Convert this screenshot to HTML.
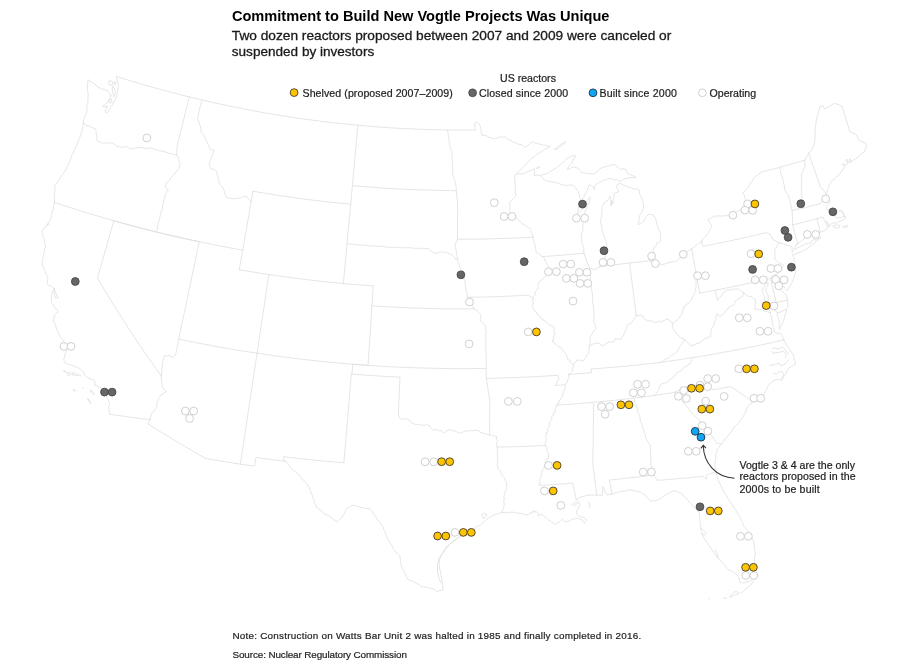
<!DOCTYPE html>
<html><head><meta charset="utf-8"><title>Commitment to Build New Vogtle Projects Was Unique</title>
<style>
html,body{margin:0;padding:0;background:#fff;}
body{width:900px;height:670px;overflow:hidden;position:relative;}
svg{position:absolute;left:0;top:0;will-change:transform;}
text{font-family:"Liberation Sans",Arial,Helvetica,sans-serif;}
.t{font-size:15px;font-weight:700;fill:#000;}
.st{font-size:12.9px;fill:#1a1a1a;stroke:#1a1a1a;stroke-width:0.3px;}
.lg{font-size:10.6px;fill:#1e1e1e;stroke:#1e1e1e;stroke-width:0.22px;}
.nt{font-size:9.9px;fill:#1e1e1e;stroke:#1e1e1e;stroke-width:0.2px;}
.an{font-size:10.6px;fill:#1e1e1e;stroke:#1e1e1e;stroke-width:0.22px;}
.map path{fill:none;stroke:#dedede;stroke-width:0.8;stroke-linejoin:round;stroke-linecap:round;}
.op{fill:#fff;stroke:#c8c8c8;stroke-width:0.85;}
.cl{fill:#666;stroke:#444;stroke-width:0.85;}
.sh{fill:#fec400;stroke:#3a3530;stroke-width:0.85;}
.bu{fill:#10a5f5;stroke:#1e2a36;stroke-width:0.85;}
</style></head>
<body>
<svg width="900" height="670" viewBox="0 0 900 670">
<g class="map">
<path d="M116.7,76.5L122.9,78.4L129.1,80.4L135.3,82.2L141.6,84.1L147.8,85.9L154.1,87.7L160.3,89.4L166.6,91.1L172.9,92.7L179.2,94.4L185.5,96.0L191.8,97.5L198.1,99.0L204.4,100.5L210.8,102.0L217.1,103.4L223.4,104.8L229.8,106.1L236.2,107.4L242.5,108.7L248.9,109.9L255.3,111.1L261.7,112.3L268.1,113.4L274.5,114.5L280.9,115.5L287.3,116.5L293.8,117.5L300.2,118.5L306.6,119.4L313.1,120.2L319.5,121.1L326.0,121.9L332.4,122.6L338.9,123.3L345.3,124.0L351.8,124.7L358.3,125.3L364.7,125.8L371.2,126.4L377.7,126.9L384.2,127.3L390.7,127.8L397.1,128.2L403.6,128.5L410.1,128.8L416.6,129.1L423.1,129.4L429.6,129.6L436.1,129.7L442.6,129.9L449.1,130.0L455.6,130.0L462.1,130.0L468.6,130.0L475.1,130.0M475.1,130.0L474.9,128.5L474.7,127.0L475.2,125.5L474.6,124.0L475.0,122.5L476.3,122.6L477.6,122.6L479.3,124.0L479.8,125.4L480.4,126.7L480.3,128.3L481.1,129.6L481.0,131.1L481.3,132.5L482.0,133.9L481.9,135.4L483.4,135.1L484.9,135.5L486.4,135.7L487.9,136.8L489.7,137.4L491.6,137.9L493.1,139.1L494.3,138.4L495.8,138.3L497.2,138.1L498.4,137.2L499.9,137.2L501.3,136.9L502.9,137.4L504.3,136.8L505.8,137.2L506.5,138.7L508.0,139.0L509.1,140.0L510.6,140.4L512.0,141.1L513.2,142.2L515.0,142.6L516.6,143.3L518.2,144.2L520.0,144.4L521.5,144.7L522.7,145.7L524.1,146.4L525.5,146.9L526.6,146.0L527.9,145.4L529.0,144.6L530.0,143.5L531.2,142.7L532.6,142.3L534.0,142.4L535.1,143.2L536.4,143.3L537.7,143.7L539.0,143.8L540.2,144.4L541.5,144.6L542.8,145.0L544.6,145.2L546.3,145.8L548.0,146.4L549.9,146.5M88.2,80.0L87.8,81.3L88.0,82.8L87.5,84.1L87.3,85.5L87.4,86.9L87.3,88.3L87.5,89.6L88.0,91.0L87.6,92.4L88.1,93.7L88.4,95.0L88.1,96.4L87.8,97.7L88.3,99.1L88.0,100.4L87.8,101.7L87.9,103.1L87.2,104.3L86.9,105.6L86.9,107.0L86.7,108.3L87.4,110.6L86.5,111.9L86.3,113.4L85.4,114.7L84.9,116.1L84.5,117.4L84.2,118.6L84.0,119.9L83.4,121.2L83.4,122.5M83.4,122.5L85.0,124.5L86.5,125.5L88.2,125.8L89.8,126.5L91.4,127.2L92.7,127.8L94.0,128.1L95.3,129.1L96.1,130.6L96.0,132.5L96.3,134.4L96.5,136.1L97.0,137.8L96.7,140.2L97.7,141.2L99.0,141.8L100.5,142.2L101.6,143.0L102.9,142.9L104.2,143.2L105.6,142.7L106.9,143.0L108.2,143.1L109.6,143.0L111.0,143.0L112.4,143.1L113.8,143.6L114.8,144.8L116.3,145.4L117.3,146.7L118.7,146.7L120.1,147.0L121.5,147.3L123.0,147.4L124.4,146.5L126.0,146.6L127.3,147.1L128.6,147.7L129.8,148.5L131.2,148.7L132.8,148.7L134.3,148.5L135.7,147.8L137.3,147.7L138.8,147.6L140.2,147.5L141.7,147.5L143.3,148.2L145.1,148.2L146.8,148.7L148.6,148.4L149.0,147.9L150.5,148.0L151.9,148.3L153.3,148.7L154.6,149.3L156.0,149.5L157.4,150.0L158.7,150.5L160.1,150.8L161.5,151.0L162.9,151.1L164.2,151.8L165.6,152.2L167.0,152.4L168.3,153.0L169.6,153.6L171.1,153.6L172.5,154.1L173.9,154.3L175.3,154.7L176.7,155.0M176.7,155.0L176.8,150.9L177.1,146.5L179.1,138.2L181.1,129.9L183.2,121.7L185.2,113.4L187.2,105.2L189.3,96.9M83.4,122.5L83.1,124.0L83.3,125.5L82.5,126.9L82.4,128.4L82.4,129.9L81.7,131.1L81.3,132.3L81.1,133.7L80.7,134.9L80.4,136.2L79.7,137.4L79.0,138.9L78.7,140.6L77.8,142.0L77.4,143.6L76.7,145.1L75.9,146.6L75.4,148.2L74.6,149.6L73.8,151.1L73.3,152.8L72.6,154.3L71.6,155.7L71.3,157.3L70.7,158.9L69.9,160.3L69.4,161.9L69.1,163.5L68.2,165.0L67.3,166.1L66.8,167.3L66.5,168.7L65.8,169.8L65.0,171.0L64.3,172.1L63.6,173.3L63.0,174.5L61.7,175.4L60.9,176.4L60.4,177.8L59.6,178.9L58.7,180.1L58.0,181.6L57.0,182.8L55.9,183.9L54.9,185.1L55.0,186.5L54.6,187.8L55.0,189.2L55.0,190.6L54.6,191.9L54.2,193.2L54.5,194.5L54.7,195.8L54.4,197.1L54.3,198.4L54.7,199.8L54.3,201.1L54.3,202.4M54.3,202.4L61.0,204.6L67.8,206.8L74.5,208.9L81.2,211.1L88.0,213.1L94.8,215.2L101.6,217.2L108.3,219.2L115.2,221.1L122.0,223.0L128.8,224.9L135.6,226.7L142.5,228.5L149.3,230.2L156.2,231.9M156.2,231.9L157.0,230.5L157.3,229.0L157.5,227.5L157.5,226.0L157.9,224.5L158.4,223.1L158.5,221.6L159.3,220.2L159.5,218.7L160.0,217.3L160.0,215.7L160.5,214.3L160.6,212.8L161.5,211.4L162.0,210.0L162.3,208.5L162.6,207.0L162.7,205.5L163.3,204.1L163.6,202.6L163.6,201.0L164.2,199.6L164.4,198.1L164.9,196.7L165.1,194.9L166.1,193.3L166.5,191.9L167.5,190.9L168.5,189.8L167.1,189.0L166.1,187.7L164.8,186.9L165.5,185.5L165.5,184.0L166.5,182.9L167.8,182.0L168.8,180.9L169.8,179.8L170.4,178.3L171.5,177.3L172.3,176.1L173.3,175.0L174.2,174.0L175.4,173.1L175.9,171.8L177.0,170.8L178.0,169.7L178.7,168.5L179.2,167.2L180.0,166.0L179.9,164.7L179.7,163.4L178.9,162.2L179.1,160.9L178.7,159.6L178.4,157.9L177.6,156.4L176.7,155.0M113.8,220.7L111.1,230.3L108.3,239.9L105.6,249.5L102.9,259.1L100.2,268.7L97.5,278.2L101.7,285.3L105.9,292.4L110.2,299.4L114.6,306.5L119.0,313.5L123.5,320.5L128.0,327.5L132.6,334.5L137.2,341.5L141.9,348.4L146.7,355.3L151.5,362.2L156.3,369.1L161.3,376.0M161.3,376.0L161.1,377.4L161.4,378.7L161.4,380.1L161.9,381.5L161.7,383.1L162.3,384.5L162.2,386.1L162.7,387.5L163.3,388.8L164.6,389.6L165.5,390.8L166.3,391.9L165.0,392.2L163.9,393.0L162.9,394.1L161.8,394.7L160.5,395.1L160.1,396.5L159.0,397.5L158.4,398.8L158.3,400.3L157.4,401.5L157.0,402.9L156.7,404.4L156.8,405.9L156.7,407.4L155.9,408.5L155.0,409.4L154.4,410.6L153.6,411.7L152.2,412.2L151.6,413.4L151.1,414.9L150.9,416.5L150.2,418.0L150.2,419.7M150.2,419.7L142.1,418.7L134.0,417.7L126.0,416.6L117.9,415.4L109.8,414.2M109.8,414.2L109.4,412.6L109.3,411.0L108.7,409.5L109.1,408.1L108.9,406.7L109.1,405.3L109.3,403.9L109.6,402.5L108.7,401.2L108.3,399.7L107.3,398.4L106.7,397.0L106.1,395.6L105.1,394.5L104.7,393.0L103.6,391.9L102.7,390.7L101.9,389.4L101.1,388.2L99.6,387.2L98.1,386.4L96.6,385.7L94.9,385.5L94.8,384.2L95.0,382.9L94.7,381.6L94.6,380.3L93.0,379.7L91.4,379.2L89.8,378.7L88.5,378.3L87.6,377.3L86.4,376.8L85.4,375.9L84.4,374.6L84.1,372.9L83.2,371.5L81.9,370.9L80.9,369.9L79.8,369.0L78.6,368.3L77.4,367.5L75.9,367.1L74.5,366.4L73.0,365.8L71.5,365.3L70.1,364.6L68.4,364.5L67.0,363.6L65.5,363.1L64.5,361.7L63.8,360.1L63.9,358.8L64.5,357.6L64.6,356.3L64.9,355.0L65.1,353.7L65.8,352.2L66.5,350.7L66.8,349.0L66.2,347.6L65.8,346.2L65.2,344.9L64.7,343.5L64.2,342.1L63.5,340.9L62.6,339.9L61.8,338.8L61.0,337.7L60.4,336.4L59.4,335.5L58.9,334.0L58.5,332.6L57.9,331.1L56.9,329.9L56.5,328.4L56.0,327.0L55.6,325.4L55.0,324.1L53.9,322.8L53.6,321.3L53.6,319.8L54.1,318.3L54.1,316.8L54.6,315.3L55.4,314.2L56.2,313.1L57.5,312.4L58.3,311.3L57.4,310.1L56.4,309.0L55.1,308.2L54.1,307.0L53.7,305.6L52.9,304.3L51.8,303.2L51.2,301.8L51.5,300.3L51.7,298.8L51.2,297.2L51.5,295.7L52.2,294.4L52.2,293.0L52.6,291.6L53.0,290.3L54.2,289.6L53.9,288.1L52.9,287.1L51.7,286.4L50.4,285.9L49.1,285.4L48.1,284.5L47.0,283.8L47.3,282.3L47.4,280.8L47.6,279.3L48.1,277.9L47.4,276.7L47.0,275.3L45.9,274.3L45.6,272.9L45.1,271.3L44.4,269.7L43.9,268.1L43.0,266.6L42.7,265.0L42.2,263.4L42.2,262.4L42.6,260.9L42.7,259.4L42.7,257.9L43.6,256.5L43.7,255.0L43.8,253.5L44.4,252.3L44.1,250.8L44.5,249.6L44.7,248.2L45.5,247.0L45.6,245.7L45.1,244.4L44.7,243.0L44.5,241.6L44.5,240.1L43.9,238.8L43.7,237.4L43.0,236.2L42.6,234.9L42.7,233.5L42.1,232.2L41.7,230.9L43.0,229.8L43.9,228.3L45.3,227.3L46.3,225.9L47.8,225.0L48.9,223.7L46.8,225.1L47.6,223.8L48.2,222.3L49.6,221.4L50.2,219.9L50.7,218.5L51.2,217.1L51.0,215.5L51.7,214.1L52.3,212.7L52.2,211.1L53.1,209.8L53.3,208.3L53.5,206.8L53.7,205.3L54.1,203.9L54.3,202.4M54.2,289.6L55.3,291.6L56.6,295.2L58.3,297.8L55.7,298.0L54.4,294.5L53.9,288.1M113.8,220.7L120.8,222.7L127.9,224.6L135.0,226.5L142.1,228.4L149.2,230.2L156.3,232.0L163.5,233.7L170.6,235.4L177.8,237.0L184.9,238.6L192.1,240.2L199.3,241.7M199.3,241.7L197.4,250.6L195.5,259.5L193.7,268.3L191.8,277.2L189.9,286.0L188.0,294.9L186.2,303.8L184.3,312.6L182.4,321.5L180.6,330.3L178.7,339.1M178.7,339.1L178.1,340.4L178.3,341.8L178.1,343.1L177.5,344.4L177.5,345.7L177.0,347.0L177.0,348.4L176.7,349.7L176.5,351.0L176.1,352.3L175.8,353.6L175.4,354.9L174.4,356.4L173.2,357.7L172.1,356.8L170.7,356.4L169.5,355.5L168.1,355.6L166.7,355.9L165.2,355.9L163.8,355.9L163.9,357.3L163.5,358.7L163.4,360.1L162.6,361.3L162.5,362.7L162.3,364.1L162.4,365.6L162.1,367.1L161.6,368.5L161.8,370.0L161.9,371.5L161.3,373.0L161.5,374.5L161.3,376.0M202.0,100.0L201.7,101.3L201.1,102.5L201.1,103.9L200.7,105.2L200.4,106.5L199.9,107.8L199.4,109.0L199.6,110.4L198.9,111.6L198.9,113.0L198.4,114.3L198.2,115.6L198.1,117.0L197.8,118.3L197.4,119.6L198.4,120.7L198.9,122.0L199.5,123.3L199.6,124.8L200.4,126.0L200.7,127.3L201.0,128.6L201.1,129.9L200.9,131.2L201.4,132.5L202.2,133.6L203.1,134.7L204.0,135.7L204.7,136.9L205.3,138.1L205.8,139.4L206.2,140.7L207.0,141.8L207.3,143.2L208.1,144.5L209.0,145.7L209.2,147.3L209.9,148.6L211.0,149.7L212.7,150.1L214.4,150.4L214.1,151.7L212.9,152.7L212.9,154.2L212.3,155.4L212.1,156.7L211.1,157.8L210.8,159.1L210.4,160.3L209.9,161.6L209.8,162.9L209.2,164.1L208.8,165.4L209.9,166.3L210.4,167.6L210.9,168.9L212.6,168.9L214.1,169.6L215.6,170.1L216.4,171.2L216.9,172.4L216.9,173.8L217.5,175.3L218.0,176.8L218.2,178.4L218.5,179.9L219.0,181.4L219.4,182.9L220.1,184.2L221.0,185.3L221.8,186.5L222.8,187.6L223.0,188.9L223.8,190.0L224.4,191.2L224.7,192.5L224.8,193.9L225.9,194.9L225.9,196.3L226.6,197.5L228.0,197.9L229.5,197.6L230.7,198.6L232.2,198.6L233.6,198.8L234.9,198.4L236.2,198.2L237.6,198.3L238.9,198.2L240.2,197.8L241.6,197.1L243.3,197.0L244.8,196.5L246.3,196.1L247.0,197.4L248.1,198.4L248.9,199.6L249.9,200.6L251.1,201.4M251.1,201.4L249.5,211.1L247.8,220.9L246.1,230.6L244.4,240.3L242.7,250.1M156.2,231.9L163.4,233.7L170.5,235.4L177.7,237.0L184.9,238.6L192.1,240.2L199.3,241.7L206.5,243.2L213.7,244.7L220.9,246.1L228.2,247.5L235.4,248.8L242.7,250.1M252.9,191.2L252.0,196.3L251.1,201.4M242.7,250.1L241.0,259.9L239.3,269.7M252.9,191.2L259.9,192.4L266.8,193.5L273.8,194.7L280.7,195.7L287.7,196.7L294.7,197.7L301.7,198.7L308.7,199.6L315.6,200.5L322.6,201.3L329.6,202.1L336.7,202.8L343.7,203.5L350.7,204.2M357.9,125.2L357.0,135.1L356.1,144.9L355.2,154.8L354.3,164.6L353.4,174.5L352.5,184.4L351.6,194.3L350.7,204.2M350.7,204.2L349.8,214.1L348.9,224.0L347.9,233.9L347.0,243.8L346.1,253.7L345.2,263.7L344.3,273.6L343.4,283.5M239.3,269.7L246.7,271.0L254.1,272.2L261.5,273.4L268.9,274.5L276.3,275.6L283.8,276.6L291.2,277.7L298.6,278.6L306.1,279.5L313.5,280.4L321.0,281.3L328.5,282.1L335.9,282.8L343.4,283.5M268.9,274.5L267.4,284.4L265.9,294.2L264.5,304.1L263.0,313.9L261.5,323.7L260.0,333.6L258.5,343.4L257.1,353.2M178.7,339.1L186.5,340.8L194.3,342.3L202.1,343.8L209.9,345.3L217.8,346.8L225.6,348.1L233.5,349.5L241.3,350.8L249.2,352.0L257.1,353.2M257.1,353.2L264.4,354.3L271.8,355.4L279.2,356.4L286.5,357.4L293.9,358.3L301.3,359.2L308.7,360.0L316.1,360.8L323.5,361.6L330.9,362.3L338.3,363.0L345.8,363.7L353.2,364.3L360.6,364.8L368.0,365.4M373.3,285.9L372.6,295.9L371.9,305.8L371.4,314.3L370.8,322.8L370.3,331.3L369.7,339.9L369.1,348.4L368.6,356.9L368.0,365.4M343.4,283.5L350.9,284.2L358.3,284.8L365.8,285.4L373.3,285.9M257.1,353.2L255.7,362.5L254.3,371.8L252.9,381.1L251.5,390.3L250.1,399.6L248.7,408.8L247.3,418.1L245.9,427.3L244.5,436.5L243.2,445.7L241.8,455.0L240.4,464.1M240.4,464.1L233.5,463.1L226.6,462.0L219.8,460.9L212.9,459.8L206.1,458.6L198.6,454.4L191.3,450.1L183.9,445.8L176.6,441.5L169.3,437.1L162.1,432.8L154.9,428.3L147.8,423.8L150.2,419.7M352.8,364.2L352.0,374.1L351.3,374.1L350.6,383.0L349.8,391.9L349.1,400.8L348.4,409.7L347.6,418.5L346.9,427.4L346.1,436.3L345.4,445.1L344.6,454.0L343.9,462.8M343.9,462.8L336.3,462.2L328.8,461.5L321.2,460.8L313.6,460.1L306.1,459.3L298.5,458.5L291.0,457.6L283.4,456.7L284.4,461.2M284.4,461.2L277.3,460.3L270.2,459.4L263.1,458.4L255.9,457.5L254.7,466.2L247.5,465.2L240.4,464.1M351.3,374.1L358.3,374.6L365.2,375.1L372.2,375.6L379.1,376.0L386.1,376.4L393.0,376.8L400.0,377.1L399.6,386.8L399.1,396.4L398.7,406.0L398.3,415.6M398.3,415.6L399.2,416.8L399.9,418.2L401.4,418.9L402.7,419.3L404.0,419.4L405.4,418.8L406.7,418.6L408.0,419.5L409.5,420.3L410.3,421.8L411.2,423.2L412.9,422.9L414.4,424.3L416.1,424.1L417.8,424.5L419.4,424.8L421.1,424.9L422.5,425.1L423.9,425.3L425.3,425.0L426.7,424.2L428.0,425.5L429.4,425.1L429.9,426.5L431.0,427.5L431.8,428.7L432.6,429.8L434.3,430.1L435.9,429.2L437.6,429.9L438.8,430.8L440.4,430.7L441.8,431.1L443.0,432.0L444.2,432.9L445.7,432.2L446.4,430.6L448.2,430.3L449.2,429.0L450.2,430.2L451.7,430.0L453.0,430.3L454.2,431.0L455.5,431.4L456.8,432.1L458.1,432.6L459.5,432.8L460.9,433.0L462.3,432.8L463.3,431.5L464.7,431.2L466.1,430.9L467.5,430.9L468.9,431.2L470.3,430.5L471.7,430.7L473.1,430.8L474.5,429.9L475.9,430.6L477.5,430.4L478.7,431.2L479.8,432.2L481.1,432.7L482.5,432.9L483.8,433.6L485.4,433.4L486.8,434.2L488.2,434.5L489.6,435.0L491.1,435.3L492.7,435.0L493.9,436.6L495.6,435.8L497.0,436.6L496.3,437.9L496.4,439.2L497.8,440.5L497.1,441.8L497.2,443.1L496.6,444.4L496.4,445.7L497.2,447.0M497.2,447.0L497.3,448.4L497.5,449.7L497.6,451.1L497.0,452.5L497.4,453.8L497.7,455.1L497.4,456.5L497.8,457.8L497.5,459.2L497.5,460.5L497.1,461.9L497.9,463.2L497.3,464.5L497.7,465.9L497.7,467.2L498.2,468.7L499.2,469.8L500.2,471.0L501.0,472.2L501.1,473.7L502.0,474.9L502.8,476.2L503.9,477.3L504.6,478.6L505.0,480.1L505.8,481.4L506.5,482.7L506.6,484.2L506.7,485.7L506.5,487.1L506.3,488.6L506.0,490.1L505.0,491.5L505.2,493.2L504.3,494.5L504.0,496.0L503.8,497.4L504.3,498.9L503.9,500.4L503.7,501.8L504.1,503.0L504.5,504.3L503.8,505.6L503.9,507.0L503.5,508.4L503.1,509.7L502.2,510.9L502.3,512.4M502.3,512.4L500.7,512.8L499.1,513.5L497.4,513.9L495.8,514.4L494.2,515.0L492.5,515.4L491.5,516.5L490.3,517.3L488.9,517.7L487.9,518.8L486.5,519.4L485.5,520.4L484.6,521.4L483.5,522.3L482.4,523.0L481.5,524.1L480.3,524.8L479.2,525.6L477.8,526.1L476.6,526.9L475.5,527.6L474.3,528.5L473.2,529.3L471.6,529.9L470.1,530.7L468.8,531.8L467.3,532.6L465.7,533.3L464.3,534.2L463.3,535.1L461.9,535.5L460.8,536.4L459.5,536.9L458.3,537.7L457.2,538.5L456.1,539.5L455.0,540.5L453.4,541.0L452.5,542.3L451.2,543.0L450.0,543.9M387.4,538.3L386.7,536.9L386.0,535.4L385.8,533.7L385.0,532.3L384.8,530.6L383.6,529.4L383.3,527.7L382.6,526.3L381.6,525.3L381.0,524.0L380.0,522.9L379.3,521.7L378.2,520.7L377.4,519.6L376.6,518.4L376.0,517.1L375.5,515.8L374.3,515.0L373.3,514.0L372.7,512.8L372.2,511.5L371.5,510.4L370.3,509.6L369.5,508.5L368.0,508.7L366.7,508.4L365.2,508.3L363.9,507.9L362.5,507.5L361.0,507.5L359.6,507.0L358.2,506.4L356.7,506.3L355.3,505.6L353.8,505.3L352.2,505.5L350.8,506.3L349.5,507.2L348.1,507.8L346.6,508.3L346.0,509.5L345.5,510.8L344.9,512.0L344.6,513.4L343.8,514.5L342.6,515.4L342.4,516.8L341.7,518.1L340.4,518.8L339.4,519.8L338.2,520.6L337.5,521.9L336.2,521.3L335.0,520.5L333.8,519.7L332.7,518.8L331.6,517.9L330.3,517.2L329.3,516.1L328.0,515.5L326.6,515.1L325.8,514.0L324.2,513.9L323.2,513.2L322.4,512.0L321.5,511.0L320.6,510.1L319.3,509.6L318.3,508.8L317.6,507.7L316.3,507.0L315.9,505.7L315.5,504.3L314.4,503.5L314.4,502.1L314.1,500.8L313.9,499.4L312.9,498.2L312.4,496.9L312.5,495.5L311.5,494.1L311.1,492.4L310.3,490.8L309.8,489.2L309.3,487.5L308.2,486.2L307.4,484.8L306.4,483.7L305.5,482.4L304.3,481.3L303.3,480.1L302.4,478.9L301.1,478.0L300.5,476.5L299.4,475.2L297.7,474.4L296.6,473.1L295.9,471.9L294.7,471.3L293.5,470.7L292.6,469.7L291.3,468.7L290.4,467.3L289.6,465.9L288.7,464.5L287.8,463.2L286.6,462.0L284.4,461.2M352.8,364.2L360.4,364.8L368.0,365.4M368.0,365.4L375.9,365.9L383.7,366.4L391.6,366.8L399.5,367.2L407.4,367.5L415.2,367.8L423.1,368.0L431.0,368.2L438.9,368.4L446.7,368.5L454.6,368.6L462.5,368.6L470.4,368.6L478.2,368.5L486.1,368.4M486.1,368.4L486.3,378.3L487.4,385.7L488.6,393.0L489.8,400.3L489.7,409.0L489.7,417.6L489.6,426.3L489.6,435.0M371.9,305.8L379.3,306.3L386.6,306.7L393.9,307.1L401.2,307.5L408.6,307.8L415.9,308.1L423.2,308.3L430.6,308.5L437.9,308.7L445.2,308.8L452.6,308.9L459.9,308.9L467.3,308.9L474.6,308.8M474.6,308.8L475.9,309.6L477.0,310.5L477.8,311.8L478.8,312.8L479.8,313.8L480.9,314.8L480.8,316.3L480.8,317.8L480.3,319.2L480.2,320.7L481.6,321.4L482.5,322.5L483.5,323.6L484.4,324.9L485.7,325.6L485.6,327.0L485.4,328.5L485.8,329.9L486.0,331.3L486.0,332.8L485.8,334.2L485.4,335.6L485.7,337.1L486.0,338.5L486.2,339.9L485.9,341.4L485.9,342.8L485.8,344.2L486.0,345.6L486.1,347.0L485.8,348.5L485.6,349.9L486.0,351.3L486.3,352.7L486.4,354.2L486.2,355.6L486.2,357.0L486.0,358.5L486.2,359.9L486.5,361.3L486.0,362.7L486.1,364.2L486.3,365.6L486.5,367.0L486.3,368.4M347.0,243.8L348.3,244.2L349.7,243.9L351.0,244.4L352.4,244.1L353.7,244.4L355.1,244.3L356.4,244.8L357.7,244.6L359.0,245.2L360.4,245.0L361.8,245.1L363.1,245.0L364.5,245.1L365.8,245.3L367.2,245.5L368.5,245.7L369.9,246.0L371.2,245.6L372.6,245.8L373.9,246.0L375.3,245.9L376.6,246.5L377.9,246.1L379.3,246.1L380.6,246.5L382.0,246.3L383.3,246.6L384.6,247.0L385.9,247.1L387.3,246.9L388.6,247.1L390.0,247.4L391.3,247.4L392.7,247.1L394.0,247.3L395.3,247.1L396.7,247.7L398.0,247.7L399.4,247.2L400.7,247.6L402.1,247.8L403.4,247.6L404.8,247.7L406.1,247.7L407.5,247.9L408.9,247.7L410.2,247.7L411.5,247.9L412.9,248.0L414.2,248.2L415.5,248.6L416.9,248.0L418.2,248.6L419.6,248.2L420.9,248.4L422.2,248.3L423.6,248.7L424.9,248.7L426.3,248.5L427.6,248.6L429.0,249.1L430.0,250.2L431.2,251.0L432.4,251.7L433.4,252.8L434.8,253.4L436.6,252.8L438.5,252.7L440.3,252.2L442.1,251.9L443.5,252.3L445.1,251.9L446.5,252.4L448.0,253.0L449.3,253.9L450.8,254.6L452.3,255.1L453.5,256.2L454.5,257.6L455.2,259.1L457.4,259.3M457.4,259.3L458.2,260.7L457.8,262.3L458.7,263.6L458.9,265.1L459.5,266.4L460.1,267.7L461.2,268.6L462.0,269.7L462.6,271.0L462.4,272.4L463.0,273.7L463.5,275.0L463.3,276.4L463.9,277.6L464.0,279.0L464.6,280.5L465.2,281.9L464.9,283.6L465.5,285.0L465.3,286.5L465.8,288.0L465.7,289.6L466.3,291.0L467.0,292.5L467.1,294.1L467.2,295.7L467.5,297.3L467.8,299.0L468.4,300.5L469.4,301.9L470.3,303.0L471.3,304.1L472.1,305.3L472.9,306.5L473.4,307.9L474.6,308.8M352.4,185.6L359.3,186.2L366.2,186.8L373.1,187.3L380.0,187.8L386.9,188.3L393.8,188.7L400.8,189.0L407.7,189.4L414.6,189.7L421.5,189.9L428.5,190.1L435.4,190.3L442.3,190.5L449.2,190.6L456.2,190.6M456.2,190.6L456.9,197.0L457.6,203.3L457.6,212.3L457.6,221.2L457.5,230.2L457.5,239.2M457.5,239.2L457.2,240.8L456.2,242.1L455.7,243.6L455.3,245.1L455.3,246.4L455.5,247.7L455.8,249.0L456.2,250.2L456.4,251.5L456.6,252.8L456.7,254.1L456.7,255.4L457.3,256.7L457.4,258.0L457.4,259.3M447.7,129.9L447.6,131.6L448.2,133.2L448.1,134.9L448.7,136.5L448.9,138.1L448.6,139.8L449.0,141.3L449.6,142.8L449.4,144.4L450.2,145.8L450.3,147.4L450.6,148.9L451.6,150.2L451.8,151.7L452.2,153.2L452.3,154.7L452.0,156.2L452.1,157.7L452.0,159.2L452.3,160.6L452.6,162.1L452.4,163.6L452.5,165.1L452.4,166.6L452.5,168.1L452.7,169.6L452.6,171.1L452.5,172.6L452.8,174.0L453.0,175.5L453.8,176.7L453.6,178.3L454.5,179.4L454.7,180.9L455.4,182.1L455.7,183.5L455.6,184.9L456.2,186.3L456.2,187.7L456.3,189.2L456.2,190.6M457.5,239.2L464.4,239.2L471.2,239.1L478.1,239.1L485.0,239.0L491.8,238.8L498.7,238.6L505.5,238.4L512.4,238.2L519.3,237.9L526.1,237.6L533.0,237.2M549.9,146.5L548.6,147.4L547.3,148.4L545.7,148.8L544.4,149.8L543.0,150.6L541.7,151.5L540.2,152.2L539.0,153.2L537.6,153.8L536.5,154.9L535.3,155.8L534.1,156.8L532.8,157.6L531.5,158.5L530.3,159.6L529.0,160.5L528.0,161.8L527.2,163.1L526.0,164.2L524.8,165.2L523.8,166.4L522.9,167.7L521.6,168.5L520.8,169.9L519.6,170.8L518.6,171.9L517.3,172.7M517.3,173.3L516.2,174.4L514.8,175.2L514.5,176.6L514.8,178.0L514.6,179.3L515.0,180.7L515.2,182.1L514.9,183.5L515.3,184.9L515.3,186.3L515.5,188.0L515.1,189.6L515.4,191.3L515.1,192.9L515.8,194.6L515.6,196.2L514.5,197.2L513.5,198.2L512.5,199.3L511.7,200.5L510.6,201.4L509.5,202.4L509.8,203.7L509.8,205.1L509.8,206.4L509.6,207.7L509.6,209.1L509.8,210.4L509.7,211.9L509.2,213.4L510.6,213.8L511.7,214.8L512.9,215.7L514.0,216.6L515.4,217.1L516.5,218.1L517.6,218.9L518.7,219.8L519.3,221.1L520.5,221.9L521.7,222.6L522.5,223.8L523.9,224.3L525.0,225.3L526.2,226.1L527.4,226.9L528.6,227.7L529.9,228.4L530.7,229.5L531.0,230.8L531.1,232.2L531.7,233.4L532.3,234.6L532.7,235.9L533.0,237.2M533.0,237.2L532.7,239.0L534.0,240.4L534.1,242.1L534.4,243.8L535.1,245.3L535.3,247.0L535.9,248.4L535.7,250.1L536.0,251.6L537.1,252.9L538.5,253.7L540.0,254.4L540.9,255.9L542.4,256.6L543.6,257.5L544.6,258.5L544.4,260.3L545.8,261.1L546.5,262.3L546.8,263.8L548.0,264.8L548.1,266.4L549.3,267.4L550.4,268.5L550.7,270.0L550.4,271.5L549.0,272.1L548.1,273.0L547.0,273.9L547.2,275.6L545.9,276.3L544.6,277.1L543.6,278.2L542.3,279.0L541.1,279.9L540.3,281.3L538.8,281.8L538.9,283.2L538.3,284.6L537.6,285.9L538.5,287.5L537.7,288.8L537.0,290.0L535.9,291.0L535.0,292.1L535.3,293.8L534.7,295.1L533.5,296.0L532.8,297.7L533.4,299.4M467.5,297.3L474.3,297.2L481.1,297.1L487.9,296.9L494.6,296.7L501.4,296.4L508.2,296.2L515.0,295.8L521.7,295.5L528.5,295.1L533.4,299.4M533.4,299.4L532.4,300.8L533.1,302.4L533.7,304.0L532.0,305.4L532.6,307.0L533.5,308.0L533.4,309.6L534.6,310.5L535.0,311.8L536.7,312.2L536.5,314.0L537.6,314.8L539.0,315.4L539.8,316.5L540.3,318.0L541.7,318.5L542.3,319.9L544.1,319.9L545.1,320.9L545.8,322.2L547.2,323.0L548.4,324.1L549.8,325.0L551.3,325.7L552.9,326.2L553.9,327.7L554.5,329.0L553.8,330.4L553.7,331.8L554.6,333.0L555.1,334.7L553.8,335.9L553.1,337.3L554.0,339.1L552.3,340.2L552.5,341.8L554.1,342.1L554.9,343.7L556.2,344.5L557.4,345.5L558.5,346.5L559.9,347.2L561.3,348.2L562.3,349.6L563.4,351.0L564.4,352.3L565.8,353.4L566.8,354.7L566.6,356.1L567.1,357.4L567.1,358.7L568.2,359.7L569.8,360.3L570.1,362.1L571.3,363.1L572.3,364.2L573.5,364.6M573.5,364.6L573.7,366.0L572.8,367.4L572.6,368.8L572.8,370.2L571.7,371.3L570.9,372.7L569.5,373.5L568.3,374.5M486.3,378.3L494.3,378.2L502.2,378.0L510.2,377.7L518.1,377.4L526.1,377.1L534.1,376.7L542.0,376.3L550.0,375.8L557.9,375.3L559.0,379.2L555.1,385.4L560.2,385.1L565.4,384.7M568.3,374.5L569.0,376.2L568.8,377.9L567.9,379.5L567.4,380.9L567.4,382.5L566.1,383.5L565.4,384.7L565.1,386.0L565.7,387.5L564.2,388.5L565.0,390.1L563.4,391.1L563.1,392.4L563.3,393.8L562.6,395.1L562.6,396.8L561.1,397.7L560.4,399.0L560.0,400.3L558.4,401.0L559.2,403.0L557.3,403.6L557.3,405.1M557.3,405.1L555.8,406.0L555.8,407.5L555.2,408.7L555.3,410.2L555.4,411.7L553.3,412.3L553.7,414.0L553.2,415.3L551.7,416.2L551.3,417.5L552.3,419.4L551.1,420.4L550.0,421.4L549.1,422.6L550.3,424.6L548.9,425.5L548.7,427.3L547.4,428.7L547.5,430.5L547.9,432.0L546.0,432.8L546.9,434.5L546.1,435.6L545.3,437.2L546.8,438.9L545.9,440.5L545.8,442.2L544.8,443.8L545.7,445.5L546.7,446.8L546.9,448.3L546.7,449.9L547.0,451.3L547.7,452.7L548.6,454.0L548.6,455.6L548.2,457.2L548.4,458.7L546.3,459.3L546.3,460.7L545.3,461.7L545.6,463.3L545.7,464.8L543.9,465.4L544.8,467.2L543.4,468.1L542.9,469.3L542.3,470.7L542.5,472.4L541.1,473.6L541.5,475.3L541.0,476.8L540.6,478.3L539.6,479.6L540.1,481.3L540.8,482.7L538.7,483.8L539.6,485.3M517.3,173.9L518.7,174.0L520.1,174.0L521.5,174.1L522.9,173.7L524.1,172.9L525.6,172.8L526.8,172.0L528.2,171.5L529.5,170.9L530.9,170.6L532.2,169.9L534.1,168.4L534.4,169.8L534.7,171.2L534.7,172.7L534.2,174.1L534.2,175.6L536.1,175.1L538.0,175.1L540.5,175.6M540.5,175.6L541.3,176.8L542.5,177.5L543.3,178.7L544.1,179.8L545.3,180.6L546.8,181.0L548.3,181.4L549.9,181.6L551.5,181.8L553.1,181.9L554.6,182.6L556.2,182.6L557.8,183.0L559.3,183.6L560.7,184.2L562.2,184.6L563.6,185.2L565.2,185.2L566.9,185.5L568.5,185.3L570.1,185.0L571.8,185.1L573.4,185.3L574.1,186.5L575.3,187.3L576.1,188.4L576.7,189.6L577.6,190.6L578.2,191.9L578.9,193.5L579.5,195.0L579.9,196.7L580.4,198.3L581.0,199.9L581.7,201.5M581.7,201.5L580.7,203.6L579.8,204.9L578.6,206.0L578.3,207.3L578.1,208.6L577.8,209.9L577.8,211.7L577.4,213.5L578.9,212.7L580.0,211.4L581.4,210.5L582.2,209.3L583.1,208.1L584.3,207.3L585.2,206.1L585.8,204.8L586.2,203.4L586.5,202.0L587.1,200.8L587.8,199.7L588.7,198.2L589.9,196.9L590.1,198.4L589.7,200.0L589.7,201.5L588.8,203.2L588.0,204.9L587.5,206.2L586.8,207.3L586.4,208.6L585.6,209.8L585.3,211.1L584.8,212.5L584.6,214.0L584.7,215.6L584.2,217.1L584.6,218.7L584.2,220.2L583.1,221.6L583.0,223.5L582.9,225.4L583.0,226.9L583.0,228.4L582.8,229.9L582.5,231.3L581.8,232.6L581.8,234.2L581.2,235.5L581.3,236.8L581.3,238.2L581.7,239.5L581.9,241.1L581.6,242.7L582.3,244.0L582.6,245.4L583.2,247.1L583.9,248.7L583.7,250.2L583.6,251.7L584.1,253.3M542.6,256.6L549.5,256.1L556.4,255.6L563.3,255.1L570.3,254.5L577.2,253.9L584.1,253.3M584.1,253.3L585.7,258.1L587.2,263.0L589.5,267.6M589.5,267.6L589.5,269.0L589.4,270.3L590.2,271.6L590.2,273.0L590.3,274.4L590.7,275.7L590.4,277.1L590.2,278.5L590.4,279.9L590.6,281.2L591.5,282.5L590.8,284.0L591.0,285.4L591.4,286.7L591.6,288.1L591.4,289.4L591.8,290.8L592.2,292.1L592.4,293.4L592.4,294.8L592.3,296.2L592.9,297.5L592.7,298.9L592.5,300.3L592.7,301.7L592.7,303.1L592.9,304.5L593.3,305.8L593.7,307.1L593.5,308.5L593.7,309.9L593.5,311.3L593.9,312.6L594.3,313.9L594.2,315.3L594.0,316.7L593.6,318.1L594.2,319.6L593.5,321.0L593.8,322.4L594.8,323.7L595.1,325.2L595.7,326.7L596.0,328.2L594.9,329.5L593.8,330.8L593.2,332.4L592.1,333.7L591.5,335.4L590.5,336.7L590.0,338.4L590.3,340.1L590.0,341.8L590.1,343.5L589.2,345.1L589.4,346.8M589.4,346.8L589.1,348.3L588.9,349.8L588.8,351.3L588.9,352.8L587.5,353.9L587.1,355.7L586.1,357.1L584.8,358.3L584.0,359.8L583.3,361.3L582.1,360.6L580.7,360.8L579.5,360.2L578.1,360.1L576.8,359.9L576.2,361.2L575.4,362.4L574.2,363.3L573.5,364.6M589.5,267.6L594.6,269.8L600.0,266.5M600.0,266.5L600.4,265.1L601.6,264.2L601.9,262.7L602.5,261.5L603.3,260.3L604.2,259.2L605.0,258.0L605.1,256.6L605.4,255.3L605.8,254.0L606.6,252.9L606.3,251.4L606.8,249.9L606.8,248.3L606.9,246.8L606.8,245.3L606.7,243.9L606.0,242.6L606.0,241.2L605.7,239.8L604.7,238.2L603.9,236.6L603.8,235.2L603.4,233.8L603.1,232.5L602.5,231.2L601.9,230.0L602.0,228.5L601.7,227.2L601.1,225.9L601.2,224.2L600.6,222.5L600.6,220.9L600.9,219.4L601.1,217.9L601.6,216.4L601.4,214.8L602.0,213.3L602.1,211.8L602.0,210.2L602.0,208.7L601.8,207.6L602.8,206.2L603.4,204.6L604.1,203.1L605.3,202.0L606.5,201.0L607.9,200.3L608.2,198.9L609.3,197.8L609.7,196.4L610.4,197.8L610.7,199.3L610.8,200.8L610.6,202.3L610.8,203.7L610.4,205.2L611.9,205.0L611.6,203.4L611.5,201.8L611.6,200.2L611.8,201.5L612.4,202.8L612.7,204.1L613.2,202.0L613.2,200.6L613.8,199.2L613.7,197.8L614.0,196.4L614.0,194.9L614.1,193.5L615.4,192.7L616.9,192.4L618.3,191.9L618.6,190.7L617.8,189.4L617.3,188.0L616.4,186.8L617.3,184.5L618.8,183.9L620.3,183.5L621.5,184.3L622.9,184.9L624.2,185.5L625.9,185.9L627.3,186.9L629.0,187.2L630.7,187.5L632.1,188.5L633.8,188.8L635.5,188.8L637.2,188.9L638.9,189.5L639.5,190.8L639.4,192.3L639.6,193.8L640.3,195.1L641.1,196.2L641.3,197.6L641.8,198.9L642.1,200.2L643.0,201.4L643.3,202.7L643.4,204.3L643.5,205.9L643.5,207.5L642.7,209.2L642.3,211.1L641.7,212.3L640.6,213.2L640.3,214.6L639.4,215.6L639.4,217.0L638.9,218.3L638.9,219.7L639.0,221.1L638.5,222.4L638.4,223.8L638.1,224.8L639.1,223.9L640.5,223.6L641.6,222.9L642.8,222.3L643.9,221.4L644.6,219.9L645.1,218.3L645.8,216.8L646.9,215.8L648.1,214.9L649.3,214.1L650.7,214.5L652.2,214.3L653.3,215.1L653.8,216.5L654.9,217.3L655.6,218.6L655.9,220.0L656.3,221.4L656.6,222.8L656.8,224.3L657.5,225.6L658.0,227.0L658.4,228.4L658.8,229.9L659.8,231.2L660.3,232.7L660.9,234.1L660.8,235.5L660.5,236.9L660.4,238.3L660.4,239.8L660.4,241.2L659.2,242.0L658.0,242.6L656.7,243.2L656.4,244.9L655.7,246.4L654.5,247.1L653.7,248.1L653.4,249.5L653.2,250.9L653.5,252.4L653.1,253.8L652.1,255.0L650.8,256.0L649.9,257.3L649.7,259.0L649.6,260.8M600.0,266.5L605.9,265.8L611.9,265.1L617.8,264.4L623.8,263.7L629.7,262.9L636.4,262.3L643.0,261.5L649.6,260.8M581.7,201.5L582.1,200.1L582.9,198.9L583.8,197.7L584.0,196.2L584.8,195.0L585.2,193.7L585.8,192.6L586.6,191.5L587.3,190.4L587.4,189.0L588.2,187.9L588.8,185.8L589.0,184.8L591.5,185.5L592.7,186.7L593.6,188.1L594.5,189.6L594.5,188.1L594.8,186.6L595.0,185.1L596.2,184.1L597.5,183.4L598.9,182.7L600.0,182.0L601.4,181.9L602.6,181.2L603.6,180.3L604.9,180.0L606.6,179.8L607.9,178.7L609.6,178.4L610.9,178.6L612.1,179.2L613.4,179.3L614.7,179.5L616.0,179.6L617.4,180.3L618.8,180.8L620.1,181.7L621.4,181.0L622.4,179.9L623.7,179.2L625.0,178.6L626.6,178.4L628.2,178.0L629.8,178.2L631.1,177.6L632.7,177.4L634.4,177.6L636.0,177.3L634.8,176.5L633.5,176.0L632.2,175.4L630.8,174.8L629.3,174.5L627.8,174.0L626.9,172.5L626.5,170.8L625.8,169.3L623.6,168.6M623.6,168.6L622.0,169.2L620.3,169.7L619.3,168.5L618.2,167.4L616.8,166.6L615.8,165.4L614.6,164.4L613.0,164.6L611.5,165.1L610.0,165.4L608.6,166.0L607.0,166.1L605.5,166.7L603.9,166.9L602.4,167.5L601.0,168.1L599.8,169.0L598.7,169.9L597.7,171.0L596.7,172.0L595.7,173.1L594.1,173.6L592.4,174.0L590.8,173.9L589.1,173.5L587.5,173.4L586.1,173.5L584.7,173.1L583.3,172.7L581.9,172.7L580.9,171.3L579.8,170.1L578.7,168.9L577.5,168.3L576.5,167.5L574.8,167.3L573.1,167.0L571.9,167.6L570.7,168.1L569.6,168.8L568.3,169.2L567.2,169.9L568.0,168.6L568.1,167.1L568.8,165.8L569.9,164.8L571.1,163.7L572.0,162.5L572.5,161.1L573.1,159.8L573.6,158.4L575.1,157.3L576.1,155.8L574.7,156.1L573.4,155.6L572.0,155.6L570.8,156.6L569.3,157.0L568.1,157.9L566.6,158.8L565.6,160.1L564.3,161.2L563.2,162.5L561.7,163.4L560.5,164.5L559.2,165.6L557.9,166.6L556.7,167.8L555.1,168.6L553.8,169.4L552.5,170.1L551.3,171.0L549.9,171.6L548.8,172.7L547.5,173.5L545.8,174.1L544.0,174.5L542.2,174.8L540.5,175.6M629.6,263.0L630.7,271.7L631.8,280.5L632.9,289.2L634.0,298.0L635.2,306.8L636.3,315.5M636.3,315.5L635.8,317.0L634.4,318.0L633.8,319.4L633.1,320.8L631.8,321.7L631.3,323.2L629.9,324.1L628.3,324.0L626.9,325.3L627.0,327.2L626.1,328.7L626.2,330.2L625.4,331.2L624.7,332.4L624.0,333.5L624.0,335.1L622.8,336.0L622.1,337.2L621.1,338.2L620.7,339.5L619.0,339.2L617.3,338.9L615.8,338.1L615.3,339.7L613.8,340.8L613.2,342.4L611.7,341.6L610.0,342.0L608.4,341.9L607.6,343.1L605.9,343.3L605.2,344.7L604.0,345.4L602.4,345.4L600.9,345.0L599.7,343.6L598.2,343.1L596.6,343.1L595.2,343.3L594.0,343.9L592.6,344.1L591.3,344.6L590.7,346.0L589.4,346.8M691.7,248.8L693.2,257.6L694.8,266.4L696.4,275.1M696.4,275.1L695.7,276.5L696.6,277.9L696.2,279.2L695.9,280.6L696.4,282.0L695.8,283.2L696.1,284.6L696.3,285.9L695.8,287.2L695.5,288.9L696.0,290.7L695.2,292.3L694.0,293.6L693.9,295.4L692.9,296.8L691.6,298.0L691.6,299.9L690.5,301.2L689.5,302.2L688.5,303.3L687.1,303.9L686.0,304.9L685.0,306.0L683.6,306.5L684.1,308.3L682.8,309.9L682.9,311.6L682.3,313.1L681.6,314.5L680.4,315.6L679.8,317.1L678.8,318.2L677.9,319.5L676.8,320.5L675.5,321.1L674.4,322.0L673.5,323.3L672.3,324.0L671.8,322.4L670.8,321.2L668.9,320.7L668.4,319.0L667.0,319.0L665.7,319.4L664.7,320.4L663.3,320.4L662.3,321.8L660.9,321.7L659.3,321.3L657.8,321.7L656.3,322.7L654.7,322.0L653.2,322.4L652.1,320.7L650.6,321.1L649.3,320.6L647.9,320.9L646.6,320.2L645.1,319.6L644.1,318.5L643.1,317.3L642.6,315.7L641.2,314.9L639.6,315.3L638.0,315.8L636.3,315.5M649.6,260.8L650.9,261.4L652.4,261.6L653.8,261.6L655.1,262.3L656.6,262.4L657.8,263.0L659.0,263.7L660.2,264.1L661.5,264.6L662.8,264.5L664.1,264.1L665.4,263.8L666.6,263.3L668.2,262.7L670.0,262.5L671.6,262.0L673.1,261.8L674.6,261.7L676.1,261.3L677.1,260.2L678.4,259.4L679.3,258.2L680.4,257.2L681.3,256.0L682.5,255.1L683.6,254.2L684.7,253.4L685.9,252.8L687.1,252.0L688.1,251.0L689.4,250.4L690.4,249.4L691.7,248.8M691.7,248.8L696.7,245.0L701.6,241.1M701.6,241.1L702.6,246.4L709.7,245.0L716.8,243.6L723.9,242.2L731.0,240.7L738.0,239.1L745.1,237.6L752.1,236.0L759.2,234.3L766.2,232.6L770.6,234.6L772.5,239.3L778.8,242.6M778.8,242.6L778.1,244.0L777.4,245.4L776.7,246.8L776.0,248.2L775.1,249.5L774.7,251.0L774.7,253.1L775.1,254.6L774.7,256.1L775.0,257.6L775.1,259.1L776.1,260.3L777.1,261.4L778.3,262.5L779.5,263.4L781.0,263.8L782.4,264.5L783.7,265.2L782.7,266.3L782.4,267.8L781.4,268.9L780.1,270.1L779.0,271.5L777.9,272.5L777.1,273.9L775.8,274.8M775.8,274.8L772.8,275.3L770.5,278.3M770.5,278.3L763.5,280.0L756.4,281.6L749.4,283.2L742.3,284.7L735.2,286.2L728.1,287.7L721.0,289.1L713.9,290.5L706.8,291.8L699.7,293.1M699.7,293.1L698.1,284.1L696.4,275.1M672.3,324.0L672.4,325.7L672.6,327.3L673.1,328.9L673.7,330.4L675.2,331.2L675.6,332.9L677.0,333.8L678.0,335.0L679.0,336.1L680.0,337.3L681.0,338.3L682.7,338.0L683.6,339.3L684.9,339.7M684.9,339.7L683.9,340.8L683.3,342.0L682.0,342.9L681.5,344.3L680.5,345.3L679.8,346.6L679.0,347.9L678.0,349.1L677.7,350.7L676.7,351.9L675.5,352.8L674.3,353.7L673.1,354.5L671.8,355.3L670.5,356.0L669.4,357.1L668.1,358.1L666.4,358.6L665.1,359.7L663.7,360.6L662.2,361.4L660.8,362.3M743.4,292.6L743.4,294.0L742.8,295.3L742.5,296.7L741.0,296.9L740.0,297.9L738.9,298.8L737.5,299.2L736.5,300.4L735.2,300.9L734.9,302.4L734.4,303.8L733.7,305.2L732.4,305.6L731.1,306.1L729.7,306.5L728.6,307.3L728.2,308.8L726.6,309.5L725.6,310.6L725.0,312.0L724.2,313.2L723.1,314.6L721.5,315.3L720.0,316.1L718.2,315.3L717.2,313.6L717.2,315.0L716.0,316.1L716.0,317.5L715.8,318.9L715.2,320.1L714.7,321.4L714.1,322.7L714.1,324.1L713.8,325.4L713.0,326.7L712.2,328.1L711.4,329.5L710.9,331.0L710.8,332.7L710.7,334.3L711.0,336.0L709.9,336.9L708.4,337.0L707.3,337.7L706.1,338.3L704.7,338.5L703.6,339.4L702.5,341.0L700.8,341.9L699.8,342.8L698.7,343.6L697.1,343.4L695.9,343.9L694.9,344.9L693.3,345.0L691.8,345.6L690.2,345.7L689.6,344.4L688.7,343.5L687.6,342.7L686.4,341.9L685.6,340.9L684.9,339.7M743.4,292.6L742.1,291.8L740.7,290.9L739.5,289.9L738.2,289.0L736.8,288.9L735.5,288.8L734.2,289.5L732.8,289.2L731.4,289.4L730.1,290.1L728.8,290.3L727.3,290.0L726.0,290.5L724.9,291.6L723.6,292.5L722.8,293.8L721.9,294.9L721.2,296.3L720.0,297.1L719.2,298.3L718.1,299.3L717.3,300.4L717.3,298.6L717.0,296.9L716.3,295.3L715.9,293.6L715.6,291.9L715.3,290.2M743.4,292.6L744.7,293.3L745.4,294.5L746.7,295.1L747.6,296.2L749.0,296.3L750.3,296.6L751.5,296.9L752.7,297.7L753.6,298.7L754.9,299.3L755.7,300.5L755.1,301.9L755.6,303.4L754.8,304.7L755.1,306.2L755.0,307.6L754.4,309.0L755.8,309.3L757.3,309.1L758.7,309.7L760.2,309.7L761.5,309.8L762.8,310.1L764.0,311.0L765.3,311.1L766.6,311.6L767.8,312.1L769.2,312.3L770.5,312.5M660.8,362.3L653.1,363.3L645.4,364.1L637.6,365.0L629.9,365.7L622.2,366.5L614.4,367.2L606.7,367.8L598.9,368.4L591.2,369.0L591.5,372.6L583.8,373.3L576.0,373.9L568.3,374.5M783.9,339.9L776.3,341.6L768.8,343.3L761.2,344.9L753.6,346.5L746.0,348.0L738.3,349.5L730.7,351.0L723.1,352.4L715.5,353.8L707.8,355.1L700.2,356.4L692.5,357.6L686.2,358.6L679.8,359.6L673.5,360.5L667.2,361.5L660.8,362.3M692.5,357.6L692.5,359.0L691.4,360.1L690.8,361.3L690.5,362.7L690.0,363.9L688.5,364.3L687.7,365.9L686.3,366.5L684.7,366.9L683.7,368.0L682.6,369.1L681.4,370.5L680.0,371.4L678.2,371.8L677.1,372.7L676.0,373.5L675.7,375.1L674.6,375.9L673.3,376.5L672.5,377.7L671.6,379.0L669.9,379.2L669.0,380.5L668.2,381.9L666.7,382.4L665.5,383.0L664.2,383.2L662.9,383.7L661.6,383.9L660.4,384.5L660.4,386.0L659.3,387.1L659.3,388.6L658.7,389.8L657.7,390.8L657.0,391.9L656.5,393.2L655.8,394.3L655.0,395.4M655.0,395.4L646.9,396.5L638.8,397.5L630.6,398.5L622.5,399.4L614.4,400.3L606.2,401.1L598.1,401.9L590.0,402.6L581.8,403.3L573.7,404.0L565.5,404.6L557.3,405.1M752.9,401.6L745.5,396.6L738.1,391.6L730.8,386.6L724.7,387.7L718.7,388.7L712.6,389.8L709.5,384.7L707.5,384.0L700.5,384.9L693.4,385.8L686.3,386.6L680.4,389.5L674.6,392.4M674.6,392.4L668.1,393.4L661.5,394.4L655.0,395.4M783.9,339.9L784.4,341.3L785.1,342.6L785.9,343.8L786.7,345.0L787.4,346.3L788.3,347.3L789.2,348.3L789.5,349.7L790.5,350.6L791.2,351.8L791.9,352.9L792.9,353.8L793.6,355.0L793.8,356.3L793.8,357.7L794.2,359.0L794.6,360.3L795.0,361.6L795.2,363.0L795.4,364.3L794.1,364.8L793.1,365.7L791.9,366.3L790.8,367.0L789.5,367.5L788.5,368.4L787.7,369.5L787.4,370.8L786.9,372.0L786.1,373.1L785.4,374.2L784.8,375.4L784.1,376.5L783.3,377.6L782.6,378.7L782.2,380.0L780.9,380.2L779.6,379.7L778.3,379.7L776.9,379.6L775.6,379.8L774.3,379.8L773.3,381.0L771.9,381.8L770.8,382.8L769.7,384.0L768.7,385.1L767.7,386.5L767.2,388.2L766.3,389.7L765.7,391.3L764.7,392.7L763.9,394.2L763.4,395.5L763.4,396.9L762.7,398.2L762.5,399.6L760.8,399.7L759.3,400.4L757.7,400.6L756.1,400.9L754.5,401.2L752.9,401.6M674.6,392.4L675.7,393.5L676.9,394.6L677.7,395.9L678.9,397.0L679.6,398.4L680.8,399.5L681.5,400.7L682.6,401.5L683.7,402.3L684.1,403.7L685.0,404.7L686.2,405.3L686.9,406.5L687.9,407.9L688.8,409.4L690.1,410.5L690.9,412.0L692.2,413.2L693.3,414.5L694.3,415.5L695.2,416.6L696.5,417.4L697.5,418.5L698.3,419.7L699.5,420.3L700.2,421.5L701.4,422.1L702.3,423.1L703.4,423.8L704.3,424.8L705.3,425.6L706.3,426.6L707.2,427.8L707.2,429.4L708.5,430.3L709.4,431.4L709.9,432.8L710.7,434.2L711.4,435.6L712.8,436.7L713.4,438.2L714.2,439.6L715.3,440.8L716.0,442.3L716.9,443.6L718.3,443.4L719.6,443.7L720.9,444.3M720.9,444.3L722.1,443.5L722.9,442.3L723.6,441.1L724.5,440.1L725.3,438.9L726.3,437.9L727.3,436.9L728.0,435.6L729.2,434.6L729.8,433.3L730.8,432.2L731.7,431.1L732.6,430.0L733.2,428.6L734.3,427.2L735.4,425.9L736.8,424.9L737.8,423.5L739.0,422.3L740.4,421.2L740.9,419.7L741.6,418.3L742.7,417.1L743.7,415.9L744.2,414.4L744.8,413.1L745.7,412.0L746.3,410.7L746.3,409.1L747.3,408.0L747.8,406.7L748.8,405.6L749.7,404.5L751.1,403.9L751.8,402.5L752.9,401.6M634.0,398.3L634.4,399.7L634.7,401.0L634.9,402.4L635.6,403.7L636.2,405.0L636.5,406.4L636.9,407.8L637.5,409.1L637.4,410.6L637.8,412.0L638.7,413.2L638.9,414.6L639.6,415.9L639.9,417.3L640.2,418.6L640.2,420.1L640.6,421.4L641.3,422.7L641.5,424.1L642.4,425.3L642.4,426.8L642.8,428.1L643.3,429.5L643.8,430.8L643.9,432.2L644.9,433.4L645.3,434.7L645.3,436.2L645.6,437.6L646.3,438.8L646.8,440.0L647.7,441.0L648.2,442.3L648.7,443.5L649.8,444.4L650.2,445.7L650.4,447.3L650.5,449.0L650.4,450.6L650.7,452.3L650.5,453.9L650.6,455.6L650.9,456.9L650.8,458.2L650.9,459.5L650.6,460.9L651.1,462.2L650.8,463.5L651.1,465.0L651.8,466.3L652.3,467.7L652.4,469.2L652.5,470.7L653.4,472.0L653.3,473.6L654.0,475.0M654.0,475.0L654.6,476.4L655.4,477.7L656.4,478.9L657.1,480.3L658.6,480.2L660.2,479.9L661.7,480.2L663.3,480.0L664.8,479.8L666.3,479.7L667.8,479.5L669.4,479.4L670.9,479.4L672.4,479.2L673.9,479.1L675.5,479.0L677.0,478.6L678.5,478.5L680.1,478.5L681.6,478.2L683.2,478.3L684.7,478.2L686.2,477.9L687.8,477.9L689.3,477.9L690.8,477.5L692.4,477.4L693.9,477.1L695.4,477.1L696.9,476.9L698.5,477.0L700.0,476.6L701.5,476.4L703.1,476.4L704.2,477.3L705.3,478.2L706.4,479.2L706.6,477.9L706.4,476.5L706.6,475.2L708.2,474.8L709.5,473.8L711.1,473.4L712.7,472.9L714.1,472.2L715.6,471.5M715.6,471.5L715.3,470.0L715.4,468.4L715.2,466.9L715.1,465.3L715.2,463.8L715.1,462.5L715.2,461.1L715.7,459.8L715.8,458.5L715.8,457.1L715.6,455.8L715.8,454.2L716.3,452.8L717.2,451.4L717.1,449.8L717.8,448.4L719.0,447.1L719.8,445.6L720.9,444.3M654.0,475.0L646.5,475.9L639.1,476.8L631.7,477.7L624.2,478.5L616.8,479.3L609.3,480.0L610.7,487.0L612.1,494.0M612.1,494.0L613.5,493.9L614.7,492.9L616.2,493.0L617.5,492.4L619.0,492.0L620.4,491.5L621.9,491.1L623.5,491.1L625.0,491.0L626.5,490.5L628.0,489.9L629.5,489.8L631.0,490.1L632.4,490.7L634.0,490.7L635.5,490.8L637.0,491.4L638.5,491.7L640.0,492.0L641.4,492.6L642.6,493.6L644.1,494.0L644.9,495.1L646.0,495.9L647.0,496.8L647.9,497.9L648.5,499.1L649.4,500.1L650.3,501.1L651.2,501.4L652.7,501.0L654.2,500.6L655.7,500.7L657.2,500.3L658.6,499.6L660.0,498.8L661.3,497.8L662.7,497.0L663.9,495.9L665.4,495.2L666.6,494.2L668.2,493.8L669.5,492.9L670.8,492.1L672.3,491.5L673.6,490.6L674.9,490.7L676.0,491.6L677.4,491.7L678.5,492.5L679.8,492.9L681.1,493.1L682.0,494.1L683.2,494.8L683.6,496.3L684.7,497.0L685.4,498.2L686.6,498.9L687.4,500.0L688.5,500.9L689.0,502.2L690.2,503.0L691.2,503.9L692.0,505.0L692.8,506.1L693.8,507.1L695.1,507.8L695.9,509.1L697.0,510.1L698.0,511.1L699.1,512.1M733.3,506.4L728.5,499.3L725.3,493.9L722.1,488.5L720.0,483.9L717.9,479.3L715.6,471.5M591.8,402.4L593.6,404.2L593.5,412.8L593.4,421.3L593.3,429.9L593.2,438.4L593.1,447.0L592.9,455.5L592.8,464.0L593.8,471.8L594.8,479.5L595.8,487.3L596.7,495.0M596.7,495.0L602.1,495.5L603.0,486.6L605.3,492.3L607.3,495.0L612.1,494.0M539.6,485.3L541.0,485.0L542.4,485.3L543.8,485.2L545.1,485.2L546.5,484.8L547.9,484.8L549.3,484.8L550.6,484.6L552.0,484.7L553.4,484.2L554.7,484.6L556.1,484.3L557.5,484.5L558.9,484.1L560.3,484.1L561.6,484.0L563.0,483.9L564.4,483.8L565.7,483.4L567.2,483.9L568.5,483.3L569.9,483.2L571.2,483.1L572.6,483.2L573.0,484.5L573.0,485.9L573.7,487.1L574.0,488.4L573.9,489.8L574.3,491.1L574.8,492.4L575.2,493.7L575.1,495.1L575.5,496.4L575.8,497.8L576.1,499.1M576.1,499.5L581.1,496.7L585.4,495.9L589.7,495.0L596.7,495.0M497.2,447.0L505.3,446.9L513.4,446.7L521.5,446.5L529.5,446.2L537.6,445.9L545.7,445.5M779.6,167.3L779.8,168.8L780.5,170.2L780.4,171.9L781.0,173.3L781.2,174.7L782.0,176.0L782.3,177.4L782.5,178.8L782.9,180.2L783.4,181.5L783.6,182.9L784.1,184.2L784.1,185.5L784.5,186.8L784.5,188.2L784.6,189.5L785.0,190.8L786.0,191.7L786.7,192.9L787.4,194.0L788.4,195.0L788.9,196.3L788.8,197.6L789.1,199.0L789.7,200.2L790.0,201.5L790.3,202.8L790.4,204.1L790.9,205.4L791.3,206.6L791.3,208.0L791.7,209.3L792.2,210.5M792.2,210.5L792.4,217.7L792.6,224.9M792.6,224.9L795.1,234.0L797.6,243.1L795.6,245.7M778.8,242.6L785.4,244.6L792.1,246.6L792.2,252.8M779.6,167.3L778.1,167.8L776.5,168.3L775.0,168.7L773.4,169.0L771.9,169.5L770.2,169.5L768.7,170.1L767.2,170.7L765.6,170.8L764.1,171.3L762.6,171.7L761.1,172.3L760.1,173.5L758.6,174.3L757.4,175.3L756.0,176.0L754.8,177.0L753.8,178.2L753.1,179.7L752.1,181.1L751.2,182.5L750.2,183.8L749.5,185.4L748.5,186.7L747.6,187.8L746.9,189.0L745.7,189.9L744.8,191.0L743.8,192.0L742.8,193.1L743.8,194.3L744.4,195.7L744.5,197.4L745.5,198.6L745.6,200.0L745.8,201.4L746.4,202.7L746.6,204.1L747.1,205.4L745.7,206.2L744.4,207.1L743.3,208.3L742.2,209.2L740.8,209.5L739.7,210.3L738.4,210.8L737.1,211.3L736.1,212.2L734.8,212.6L733.6,213.3L732.2,213.6L731.1,214.4L729.9,215.3L728.6,215.7L727.3,215.7L726.0,215.8L724.6,215.5L723.3,216.0L722.0,215.9L720.7,216.1L719.4,215.8L718.0,216.2L716.7,215.9L715.4,216.0L714.0,216.3L712.9,217.2L711.7,217.8L710.5,218.5L709.2,219.0L708.0,219.6L708.7,221.0L709.7,222.2L710.4,223.6L711.1,224.9L711.6,226.4L711.0,227.8L710.2,229.1L709.4,230.4L708.8,231.8L708.1,233.1L707.2,234.3L706.5,235.6L705.3,236.5L704.4,237.7L703.3,238.7L702.5,239.9L701.6,241.1M793.5,254.9L798.8,252.8L804.1,250.6L808.7,247.3L813.2,244.0L817.3,240.6L821.3,237.2L815.3,240.3L814.5,237.4L811.2,242.5L805.5,244.1L800.6,246.4L795.8,248.7L794.6,250.1M792.7,254.7L793.2,256.1L793.7,257.5L793.9,259.2L794.5,260.7L794.7,262.4L794.8,263.7L795.2,265.0L795.3,266.4L795.5,267.7L795.8,269.0L796.0,270.3L795.7,271.8L795.3,273.3L794.7,274.7L794.4,276.1L793.8,277.4L793.5,278.8L793.0,280.1L792.3,281.5L791.9,283.1L790.9,284.4L790.2,285.8L789.2,287.1L788.7,288.6L787.9,289.7L786.8,290.5L786.0,289.3L785.0,288.2L784.1,287.1L783.3,285.9L782.1,284.9L780.5,284.6L779.2,283.7L777.8,283.1L776.6,282.1L775.5,281.1L774.7,279.8L775.3,278.2L775.4,276.5L775.8,274.8M770.5,278.3L772.5,286.4L774.4,294.6L776.3,302.7L782.0,301.3L787.6,300.0M774.7,279.8L778.3,285.0L781.2,290.5L785.4,293.9L787.6,300.0M787.6,300.0L787.9,301.5L787.7,302.9L787.8,304.4L787.6,305.8L787.8,307.3L786.6,309.0L786.4,310.7L786.0,312.4L785.4,314.0L784.8,315.2L784.5,316.5L784.5,317.9L784.0,319.2L783.7,320.4L783.2,321.7L782.5,322.9L782.0,324.1L781.3,325.3L780.7,326.6L780.3,327.9L779.7,329.1M786.6,309.0L780.8,312.1L777.0,313.0M766.7,282.7L765.8,283.8L765.0,285.0L764.4,286.3L763.4,287.4L762.8,288.7L762.0,289.9L762.3,291.4L762.9,292.8L763.2,294.2L764.1,295.5L764.6,296.9L764.1,298.3L765.0,299.6L764.5,301.1L764.9,302.5L765.5,303.7L766.3,304.7L766.6,306.1L767.6,307.0L768.3,308.4L769.1,309.7L769.5,311.2L770.5,312.5L770.5,314.2L771.1,315.7L771.6,317.3L771.9,318.6L772.0,319.9L772.1,321.2L772.1,322.6L772.6,323.9L772.6,325.2L773.1,326.4L773.4,327.7L774.0,329.0L774.5,330.2L774.5,331.6L775.2,332.8L776.5,333.3L778.0,333.1L779.3,333.3L780.7,333.5L781.6,334.7L782.1,336.0L782.9,337.2L783.2,338.7L783.9,339.9M779.7,329.1L779.7,327.6L779.1,326.2L779.7,324.6L779.1,323.2L779.1,321.7L779.1,320.2L778.7,318.9L778.5,317.4L777.5,316.2L777.4,314.8L777.5,313.3L776.8,312.0L775.7,310.9L775.0,309.5L774.7,307.9L773.9,306.6L772.7,305.6L771.8,304.4L770.5,303.5L769.2,302.7L768.0,301.8L768.5,300.3L768.1,298.7L768.1,297.2L768.1,295.6L767.5,294.2L766.6,292.9L765.9,291.6L765.3,290.2L766.0,288.9L766.4,287.4L767.5,286.2L767.9,284.7L768.4,283.3L766.7,282.7M804.5,160.3L804.6,161.9L805.0,163.5L804.9,165.1L804.9,166.7L804.4,168.1L803.7,169.4L803.1,170.8L802.5,172.1L801.7,173.4L801.4,174.9L801.2,176.3L801.6,177.7L801.7,179.2L801.7,180.6L801.9,182.0L801.5,183.4L801.8,184.8L801.6,186.2L801.3,187.7L801.6,189.1L801.3,190.5L801.6,192.1L801.4,193.8L801.9,195.4L801.9,197.1L802.4,198.7L802.6,200.4L803.1,201.8L802.8,203.4L803.1,204.9L803.3,206.4L803.7,207.8M803.7,207.8L798.0,209.2L792.2,210.5M779.6,167.3L785.8,165.6L792.1,163.9L798.3,162.1L804.5,160.3M803.7,207.8L809.2,206.4L814.7,205.1L820.2,203.7L822.4,200.9L826.0,198.4M826.4,193.9L820.5,186.9L817.5,178.5L814.5,170.0L811.6,161.6L808.6,153.1M808.6,153.1L806.6,156.7L804.5,160.3M826.4,193.9L826.0,198.4M826.0,198.4L826.9,199.5L828.0,200.2L829.3,200.8L830.3,201.7L829.6,202.9L828.7,203.8L827.7,204.8L826.9,205.8L826.6,207.4L826.4,209.1L827.7,209.6L829.0,210.3L830.1,211.1L831.1,212.1L832.2,213.1L833.3,214.0L834.3,215.0L834.9,216.3L836.0,217.3L836.9,218.4L838.2,217.7L839.7,217.5L841.2,217.3L842.5,216.6L844.0,216.3L845.3,217.9L844.9,216.6L844.0,215.5L843.6,214.2L843.4,212.9L842.8,211.7L842.2,210.5L840.7,210.5L839.2,210.8L840.6,211.5L841.8,212.5L843.1,213.4L843.7,214.7L844.6,216.0L845.1,217.4L844.9,219.1L843.2,219.8L841.5,220.7L839.8,221.4L838.1,222.2L836.0,223.3L834.7,222.9L833.4,223.1L832.1,223.0L830.8,224.5L829.5,225.9M829.5,225.9L827.2,222.4L823.6,219.3L822.9,217.0L816.9,218.7M816.9,218.7L819.2,226.8L820.1,232.3M816.9,218.7L810.8,220.3L804.8,221.9L798.7,223.4L792.6,224.9M829.5,225.9L828.5,226.8L825.6,230.1L820.1,232.3M820.1,232.3L816.5,233.4L811.0,235.9L805.3,237.9L801.5,241.0L795.6,245.7L794.4,249.1M88.2,80.0L92.0,82.3L95.0,84.5L98.0,87.0L103.0,89.3L107.4,90.8L109.6,93.3L111.0,95.5M111.0,95.5L110.0,99.0L107.5,102.5L104.5,104.8L102.6,106.0L103.5,107.2L106.0,106.5L107.5,106.0L106.3,108.5L105.0,111.0L106.0,113.0L107.8,112.0L109.0,110.0L110.5,107.5L112.5,104.5L113.5,102.0M113.5,102.0L115.5,99.0L116.8,96.0L117.5,92.0L118.2,88.0L118.4,84.5L117.4,81.4L116.5,78.3L116.7,76.5M112.6,86.2L114.3,88.0L115.3,91.8L114.9,95.6L113.6,96.8L113.1,93.2L112.2,89.2L112.6,86.2M109.2,81.2L111.4,80.6L113.0,82.4L112.1,84.8L109.8,85.3L108.6,83.2L109.2,81.2M114.0,82.5L115.6,82.2L116.0,84.0L114.6,84.6L114.0,82.5M109.5,99.5L111.2,99.0L111.6,101.8L110.2,103.3L109.0,102.0L109.5,99.5M64.0,370.6L65.4,371.2L65.0,372.2L63.8,371.6L64.0,370.6M67.0,372.6L69.8,372.4L70.7,374.4L69.0,375.4L67.2,374.6L67.0,372.6M72.2,373.0L75.0,373.2L78.8,374.6L78.0,375.8L75.0,375.4L72.6,375.0L72.2,373.0M79.6,375.4L80.8,375.8M82.6,387.6L83.4,388.4M73.4,389.6L75.4,390.4L75.0,391.2L73.4,390.4L73.4,389.6M90.4,390.2L92.6,391.6L94.6,394.0L93.6,394.4L91.4,392.6L90.4,390.2M87.8,398.4L89.6,400.6L91.2,403.2L90.4,403.4L88.4,400.8L87.8,398.4M502.3,512.4L503.8,512.3L505.3,512.5L506.7,512.8L508.0,512.8L509.3,512.3L510.6,512.2L512.0,512.1L513.3,512.2L514.6,512.4L515.9,512.8L517.3,512.9L518.6,513.3L520.0,513.3L521.4,513.4L522.8,513.7L524.0,514.5L525.4,514.6L526.7,515.0L528.1,514.6L529.4,513.8L530.8,513.2L532.2,512.8L533.8,511.8L535.6,511.1L537.1,512.3L538.3,513.9L537.8,516.1L539.0,515.6L540.0,514.7L541.1,513.9L542.3,514.8L543.3,515.7L544.4,516.7L545.6,517.5L546.8,518.3L547.8,519.4L548.8,520.3L550.0,520.8L551.0,521.7L552.2,522.2L553.4,522.9L554.4,523.7L555.6,524.4L556.6,523.5L557.6,522.7L558.9,522.2L560.2,521.5L561.2,520.5L562.2,519.4L563.4,520.1L564.3,521.1L565.6,521.7L567.3,521.6L568.9,521.1L570.3,520.3L571.9,519.7L573.3,518.9L574.8,519.0L576.3,518.5L577.8,518.3L579.2,519.1L580.8,519.3L582.2,520.0L583.0,521.1L583.6,522.3L584.4,523.3L585.0,522.1L585.8,521.0L586.7,520.0L585.7,518.7L584.4,517.8L582.9,517.4L581.5,516.9L580.0,516.7L578.8,515.9L577.7,515.0L576.7,513.9L576.6,512.5L576.7,511.1L577.3,509.9L578.4,509.1L578.9,507.8L579.3,506.1L580.0,504.4L578.9,502.2L577.5,500.9L576.1,499.6M572.2,504.4L575.6,502.2L577.8,503.3L574.4,505.6L572.2,504.4M588.9,502.2L589.6,505.0L590.0,507.8M531.0,512.6L533.5,510.8L535.2,512.2M771.8,351.5L773.0,353.3L776.0,352.7L780.1,352.1L783.7,351.5L786.1,353.9L785.5,357.5M772.4,348.8L775.4,347.9L779.0,349.1L782.5,346.7L786.1,350.9L788.5,353.9M770.0,365.2L775.4,364.6L779.0,362.8L780.1,365.8L782.5,365.2L786.1,363.4L788.5,359.9M773.0,373.0L776.6,374.2L779.0,371.8L782.5,371.8L783.7,375.4L781.3,379.0M481.9,514.8L484.3,513.1L486.8,514.1L485.6,517.2L483.1,518.5L481.9,514.8M470.5,528.5L466.0,531.5L462.0,535.2L457.5,538.2L453.0,541.5L449.5,544.5L446.5,548.5L442.6,553.5L439.2,557.5L437.4,565.0L437.6,572.0L439.0,578.0L441.0,583.0M808.6,153.1L811.8,150.1L814.0,145.0L815.2,138.0L814.9,132.8L816.4,119.4L820.1,106.0L823.1,106.0L824.6,109.0L829.0,106.5L833.6,103.7L835.8,103.7L841.8,106.0L846.0,119.0L850.0,132.1L856.0,134.3L859.0,140.3L865.7,143.3L866.4,146.3L864.2,151.5M864.2,151.5L863.3,152.7L861.9,153.3L860.9,154.4L859.7,155.2L858.5,156.4L857.5,157.7L856.0,158.5L854.9,159.7L853.3,160.1L852.2,161.2L850.8,161.8L849.3,162.4L847.8,162.7L846.9,164.3L845.5,165.5L844.6,167.2L843.3,168.7L842.7,169.9L842.1,171.1L840.9,171.9L840.3,173.1L839.3,174.3L838.3,175.6L836.8,176.3L835.8,177.6L834.9,178.8L833.7,179.6L832.2,180.1L831.3,181.3L830.7,183.1L829.5,184.5L829.0,186.3L828.4,188.1L827.6,189.5L827.1,190.9L827.2,192.5L826.4,193.9M846.5,159.5L848.0,160.5L847.2,162.2L845.8,161.2L846.5,159.5M849.6,159.0L851.2,160.2L850.6,162.0L849.2,161.0L849.6,159.0M843.2,163.6L844.6,164.6L843.8,166.0L842.8,165.0L843.2,163.6M554.6,149.2L557.5,146.8L561.0,144.2L565.4,141.8L565.2,143.2L561.5,145.8L558.0,148.2L555.4,150.0L554.6,149.2M536.5,168.2L537.6,167.6L537.8,168.8L536.5,168.2M538.6,167.0L539.6,166.6L539.6,167.8L538.6,167.0M699.1,512.1L699.3,513.5L699.3,515.0L699.7,516.4L699.5,517.8L699.9,519.2L700.2,520.6L699.8,522.0L700.2,523.4L700.5,524.8L700.4,526.3L700.7,527.7L700.6,529.1L701.0,530.6L701.7,531.9L701.8,533.4L702.5,534.8L703.1,536.2L703.5,537.6L704.4,538.7L705.1,540.0L706.1,541.1L706.6,542.5L707.8,543.4L708.4,544.7L709.2,545.9L710.0,547.1L711.0,548.2L711.6,549.5L712.6,550.6L713.4,551.8L714.3,553.3L715.2,554.6L716.2,556.0L717.2,557.0L718.1,558.1L719.1,559.1L719.8,560.3L721.0,561.2L721.8,562.5L723.0,563.4L724.0,564.5L724.8,565.6L725.9,566.3L726.6,567.5L727.5,568.4L728.3,569.5L729.7,570.2L731.2,570.8L732.5,571.6L733.9,572.3L735.0,573.3L736.2,574.2L737.3,575.2L738.2,576.4L738.5,577.8L739.3,579.0L739.8,580.6L740.0,582.3L741.4,582.6L742.7,583.0L744.1,582.8L745.4,582.3L746.7,581.7L748.1,581.6L749.4,581.2L750.6,580.4L752.0,580.3L753.0,579.3L754.2,578.5L753.8,577.1L754.1,575.7L754.1,574.4L753.8,573.0L753.8,571.6L753.8,570.2L754.1,568.8L754.2,567.4L754.0,565.9L754.5,564.5L754.3,563.1L754.5,561.7L754.7,560.3L754.5,558.9L754.6,557.4L755.1,556.1L755.1,554.6L755.2,553.2L755.2,551.8L754.7,550.4L754.5,549.0L754.4,547.5L754.2,546.1L754.1,544.7L753.9,543.2L753.8,541.8L752.9,540.7L752.5,539.4L752.0,538.1L751.2,537.0L750.9,535.6L750.2,534.5L749.5,533.3L748.7,532.1L747.5,531.1L746.6,529.8L745.8,528.6L744.7,527.5L743.8,526.3L743.0,525.2L742.9,523.7L742.4,522.5L741.6,521.3L740.9,520.2L740.8,518.7L740.2,517.5L739.6,516.3L738.7,515.3L738.1,514.2L737.3,513.1L736.9,511.8L736.0,510.9L735.6,509.6L734.8,508.5L733.8,507.6L733.3,506.4M753.3,581.5L750.7,585.0L746.7,588.3L742.7,591.7L741.3,592.7M730.0,596.3L734.7,591.7L738.7,592.3L739.3,593.7L735.3,595.0L730.7,597.3L730.0,596.3M723.3,598.0L726.7,598.3M708.6,598.8L709.4,599.2M701.0,528.0L703.5,530.2L706.3,533.3L704.6,535.2L702.6,533.5M715.2,550.2L716.8,553.5L718.2,557.8L716.6,556.6M832.9,226.3L836.0,224.8L840.0,225.5L839.0,227.5L835.0,228.0L832.9,226.3M843.0,226.8L845.5,225.5L848.0,225.7L847.0,227.3L844.0,227.8L843.0,226.8M825.0,221.5L826.5,225.0L828.0,227.5M827.0,222.0L829.0,226.0M387.4,538.3L388.0,539.7L389.0,540.8L389.5,542.3L390.2,543.6L391.4,544.6L392.0,546.0L393.1,547.1L393.2,548.7L394.3,549.7L395.0,551.0L395.7,552.3L396.9,553.1L397.8,554.2L398.8,555.2L400.0,556.0L400.0,557.5L400.3,559.0L400.8,560.5L400.5,562.0L400.7,563.5L401.3,565.0L401.6,566.5L402.0,568.0L402.4,569.4L403.8,570.3L404.0,571.9L405.0,573.0L405.9,574.0L405.8,575.5L406.2,576.7L407.2,577.7L407.5,579.0L409.0,579.7L410.3,580.7L412.0,581.0L413.3,581.8L414.6,582.4L416.0,583.0L417.3,583.6L418.6,584.3L419.7,585.3L420.8,586.1L422.0,587.0L423.5,586.9L425.0,587.1L426.5,587.0L428.0,587.5L429.2,588.1L430.5,588.4L431.8,588.4L433.0,589.0L434.5,589.6L435.7,590.7L437.0,591.5L438.5,591.0L440.0,590.5L441.6,590.4L443.0,589.5M450.0,543.9L446.0,547.0L443.0,552.0L440.0,558.0L439.0,563.0L440.0,570.0L441.5,577.0L442.5,584.0L443.0,589.5"/>
</g>
<g class="dots">
<circle class="op" cx="146.8" cy="138.0" r="3.9"/>
<circle class="op" cx="63.9" cy="346.4" r="3.9"/>
<circle class="op" cx="71.0" cy="346.4" r="3.9"/>
<circle class="op" cx="185.3" cy="411.0" r="3.9"/>
<circle class="op" cx="193.7" cy="411.0" r="3.9"/>
<circle class="op" cx="189.6" cy="418.4" r="3.9"/>
<circle class="op" cx="494.3" cy="202.7" r="3.9"/>
<circle class="op" cx="504.1" cy="216.5" r="3.9"/>
<circle class="op" cx="512.0" cy="216.5" r="3.9"/>
<circle class="op" cx="469.5" cy="302.0" r="3.9"/>
<circle class="op" cx="548.5" cy="271.7" r="3.9"/>
<circle class="op" cx="556.4" cy="271.7" r="3.9"/>
<circle class="op" cx="528.2" cy="331.9" r="3.9"/>
<circle class="op" cx="469.1" cy="343.9" r="3.9"/>
<circle class="op" cx="425.1" cy="461.8" r="3.9"/>
<circle class="op" cx="433.7" cy="461.8" r="3.9"/>
<circle class="op" cx="454.9" cy="532.4" r="3.9"/>
<circle class="op" cx="508.4" cy="401.4" r="3.9"/>
<circle class="op" cx="517.2" cy="401.4" r="3.9"/>
<circle class="op" cx="548.5" cy="465.4" r="3.9"/>
<circle class="op" cx="544.4" cy="490.9" r="3.9"/>
<circle class="op" cx="560.8" cy="505.4" r="3.9"/>
<circle class="op" cx="576.5" cy="218.2" r="3.9"/>
<circle class="op" cx="584.7" cy="218.2" r="3.9"/>
<circle class="op" cx="603.0" cy="262.4" r="3.9"/>
<circle class="op" cx="610.9" cy="262.4" r="3.9"/>
<circle class="op" cx="563.2" cy="264.1" r="3.9"/>
<circle class="op" cx="570.8" cy="264.1" r="3.9"/>
<circle class="op" cx="579.4" cy="272.3" r="3.9"/>
<circle class="op" cx="587.0" cy="272.3" r="3.9"/>
<circle class="op" cx="566.3" cy="278.4" r="3.9"/>
<circle class="op" cx="573.9" cy="278.4" r="3.9"/>
<circle class="op" cx="580.1" cy="283.4" r="3.9"/>
<circle class="op" cx="587.8" cy="283.4" r="3.9"/>
<circle class="op" cx="573.0" cy="301.1" r="3.9"/>
<circle class="op" cx="651.6" cy="256.1" r="3.9"/>
<circle class="op" cx="655.4" cy="263.5" r="3.9"/>
<circle class="op" cx="683.3" cy="254.3" r="3.9"/>
<circle class="op" cx="697.6" cy="275.7" r="3.9"/>
<circle class="op" cx="705.4" cy="275.7" r="3.9"/>
<circle class="op" cx="732.9" cy="215.2" r="3.9"/>
<circle class="op" cx="747.6" cy="203.9" r="3.9"/>
<circle class="op" cx="744.9" cy="210.1" r="3.9"/>
<circle class="op" cx="752.7" cy="210.3" r="3.9"/>
<circle class="op" cx="825.7" cy="198.8" r="3.9"/>
<circle class="op" cx="807.3" cy="234.4" r="3.9"/>
<circle class="op" cx="815.7" cy="234.4" r="3.9"/>
<circle class="op" cx="751.1" cy="253.7" r="3.9"/>
<circle class="op" cx="770.9" cy="268.5" r="3.9"/>
<circle class="op" cx="777.9" cy="268.5" r="3.9"/>
<circle class="op" cx="755.1" cy="279.8" r="3.9"/>
<circle class="op" cx="763.3" cy="279.8" r="3.9"/>
<circle class="op" cx="775.7" cy="279.5" r="3.9"/>
<circle class="op" cx="784.0" cy="279.8" r="3.9"/>
<circle class="op" cx="778.8" cy="285.8" r="3.9"/>
<circle class="op" cx="774.0" cy="305.9" r="3.9"/>
<circle class="op" cx="739.3" cy="317.8" r="3.9"/>
<circle class="op" cx="747.3" cy="317.8" r="3.9"/>
<circle class="op" cx="759.9" cy="331.3" r="3.9"/>
<circle class="op" cx="768.1" cy="331.3" r="3.9"/>
<circle class="op" cx="738.8" cy="368.8" r="3.9"/>
<circle class="op" cx="707.7" cy="378.6" r="3.9"/>
<circle class="op" cx="715.7" cy="378.6" r="3.9"/>
<circle class="op" cx="707.7" cy="386.7" r="3.9"/>
<circle class="op" cx="699.9" cy="385.2" r="3.9"/>
<circle class="op" cx="683.7" cy="390.5" r="3.9"/>
<circle class="op" cx="678.4" cy="396.3" r="3.9"/>
<circle class="op" cx="686.4" cy="398.5" r="3.9"/>
<circle class="op" cx="724.1" cy="396.4" r="3.9"/>
<circle class="op" cx="705.7" cy="401.2" r="3.9"/>
<circle class="op" cx="754.0" cy="398.3" r="3.9"/>
<circle class="op" cx="760.7" cy="398.3" r="3.9"/>
<circle class="op" cx="702.2" cy="425.7" r="3.9"/>
<circle class="op" cx="707.9" cy="431.2" r="3.9"/>
<circle class="op" cx="688.3" cy="451.3" r="3.9"/>
<circle class="op" cx="696.3" cy="451.3" r="3.9"/>
<circle class="op" cx="643.3" cy="472.0" r="3.9"/>
<circle class="op" cx="651.4" cy="472.0" r="3.9"/>
<circle class="op" cx="637.5" cy="384.3" r="3.9"/>
<circle class="op" cx="645.5" cy="384.3" r="3.9"/>
<circle class="op" cx="633.4" cy="392.8" r="3.9"/>
<circle class="op" cx="641.5" cy="392.8" r="3.9"/>
<circle class="op" cx="601.5" cy="406.6" r="3.9"/>
<circle class="op" cx="609.7" cy="406.6" r="3.9"/>
<circle class="op" cx="605.1" cy="414.3" r="3.9"/>
<circle class="op" cx="740.5" cy="536.3" r="3.9"/>
<circle class="op" cx="748.4" cy="536.3" r="3.9"/>
<circle class="op" cx="745.8" cy="575.4" r="3.9"/>
<circle class="op" cx="753.9" cy="575.4" r="3.9"/>
<circle class="cl" cx="75.3" cy="281.5" r="3.9"/>
<circle class="cl" cx="104.5" cy="392.1" r="3.9"/>
<circle class="cl" cx="112.1" cy="392.1" r="3.9"/>
<circle class="cl" cx="524.2" cy="261.7" r="3.9"/>
<circle class="cl" cx="460.9" cy="274.8" r="3.9"/>
<circle class="cl" cx="582.5" cy="204.1" r="3.9"/>
<circle class="cl" cx="604.0" cy="250.7" r="3.9"/>
<circle class="cl" cx="800.8" cy="203.7" r="3.9"/>
<circle class="cl" cx="832.9" cy="211.8" r="3.9"/>
<circle class="cl" cx="784.9" cy="230.5" r="3.9"/>
<circle class="cl" cx="788.1" cy="237.3" r="3.9"/>
<circle class="cl" cx="752.6" cy="269.4" r="3.9"/>
<circle class="cl" cx="791.4" cy="267.2" r="3.9"/>
<circle class="cl" cx="700.0" cy="506.8" r="3.9"/>
<circle class="sh" cx="536.4" cy="331.9" r="3.9"/>
<circle class="sh" cx="441.6" cy="461.7" r="3.9"/>
<circle class="sh" cx="449.7" cy="461.7" r="3.9"/>
<circle class="sh" cx="437.6" cy="536.0" r="3.9"/>
<circle class="sh" cx="445.8" cy="536.0" r="3.9"/>
<circle class="sh" cx="463.3" cy="532.4" r="3.9"/>
<circle class="sh" cx="471.3" cy="532.4" r="3.9"/>
<circle class="sh" cx="557.1" cy="465.4" r="3.9"/>
<circle class="sh" cx="553.2" cy="490.9" r="3.9"/>
<circle class="sh" cx="754.9" cy="203.9" r="3.9"/>
<circle class="sh" cx="758.7" cy="254.0" r="3.9"/>
<circle class="sh" cx="766.2" cy="305.6" r="3.9"/>
<circle class="sh" cx="746.6" cy="368.8" r="3.9"/>
<circle class="sh" cx="754.4" cy="368.8" r="3.9"/>
<circle class="sh" cx="691.5" cy="388.3" r="3.9"/>
<circle class="sh" cx="699.6" cy="388.3" r="3.9"/>
<circle class="sh" cx="701.8" cy="409.1" r="3.9"/>
<circle class="sh" cx="709.9" cy="409.1" r="3.9"/>
<circle class="sh" cx="620.9" cy="404.8" r="3.9"/>
<circle class="sh" cx="629.0" cy="404.8" r="3.9"/>
<circle class="sh" cx="710.2" cy="510.9" r="3.9"/>
<circle class="sh" cx="718.3" cy="510.9" r="3.9"/>
<circle class="sh" cx="745.6" cy="567.3" r="3.9"/>
<circle class="sh" cx="753.4" cy="567.3" r="3.9"/>
<circle class="bu" cx="695.2" cy="431.3" r="3.9"/>
<circle class="bu" cx="701.0" cy="437.2" r="3.9"/>
</g>
<path d="M734.5,478.2 C716,477.5 703.5,463 703.3,445.6" fill="none" stroke="#333" stroke-width="1.05"/>
<path d="M700.8,448.4 L703.3,445.4 L706,448.2" fill="none" stroke="#333" stroke-width="1.05"/>
<text class="t" x="231.9" y="20.6" textLength="377.6" lengthAdjust="spacingAndGlyphs">Commitment to Build New Vogtle Projects Was Unique</text>
<text class="st" x="231.8" y="39.9" textLength="439.5" lengthAdjust="spacingAndGlyphs">Two dozen reactors proposed between 2007 and 2009 were canceled or</text>
<text class="st" x="231.8" y="55.5" textLength="142.4" lengthAdjust="spacingAndGlyphs">suspended by investors</text>
<text class="lg" x="500" y="81.6">US reactors</text>
<circle class="sh" cx="294.1" cy="92.6" r="3.9"/>
<text class="lg" x="302.5" y="96.8" style="letter-spacing:0.07px">Shelved (proposed 2007–2009)</text>
<circle class="cl" cx="472.6" cy="92.8" r="3.9"/>
<text class="lg" x="479" y="96.8" style="letter-spacing:0.12px">Closed since 2000</text>
<circle class="bu" cx="593" cy="92.8" r="3.9"/>
<text class="lg" x="599.5" y="96.8" style="letter-spacing:0.17px">Built since 2000</text>
<circle class="op" cx="702.4" cy="92.8" r="3.9"/>
<text class="lg" x="709.5" y="96.8">Operating</text>
<text class="an" x="739.5" y="469">Vogtle 3 &amp; 4 are the only</text>
<text class="an" x="739.5" y="480.2" style="letter-spacing:0.08px">reactors proposed in the</text>
<text class="an" x="739.5" y="493" style="letter-spacing:0.15px">2000s to be built</text>
<text class="nt" x="232.5" y="638.7" style="letter-spacing:0.235px">Note: Construction on Watts Bar Unit 2 was halted in 1985 and finally completed in 2016.</text>
<text class="nt" x="232.5" y="657.7" style="letter-spacing:-0.11px">Source: Nuclear Regulatory Commission</text>
</svg>
</body></html>
